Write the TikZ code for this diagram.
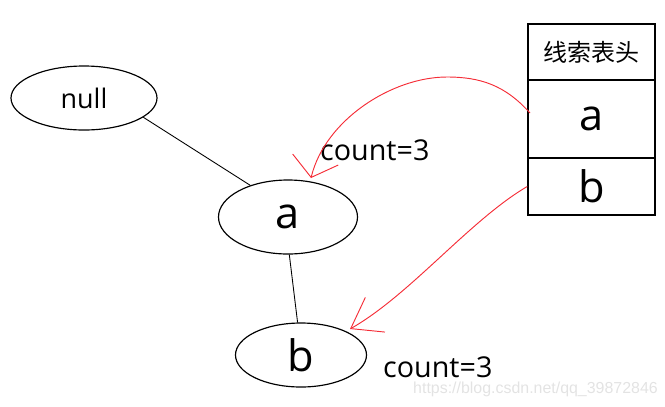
\documentclass[tikz,border=0pt]{standalone}
\usepackage{fontspec}
\setmainfont{Open Sans}
\newfontfamily\cjk{Noto Sans CJK SC}
\newfontfamily\wmfont{Liberation Sans}
\usetikzlibrary{shapes.geometric,arrows.meta}
\definecolor{pen}{RGB}{245,45,55}
\begin{document}
\begin{tikzpicture}[x=0.03cm,y=-0.03cm,
  oval/.style={draw, ellipse, line width=1pt, inner sep=0pt},
  cell/.style={draw, rectangle, line width=1.3pt, minimum width=3.81cm, inner sep=0pt},
  link/.style={line width=0.75pt},
  redline/.style={draw=pen, line width=0.8pt},
  lbl/.style={font=\fontsize{24.5}{28}\selectfont, anchor=base west, inner sep=0pt}]
\useasboundingbox (0,0) rectangle (665,406);
% tree nodes
\node[oval, minimum width=4.38cm, minimum height=1.92cm, font=\fontsize{23}{27}\selectfont] (null) at (84,98) {null};
\node[oval, minimum width=4.17cm, minimum height=2.22cm, font=\fontsize{37}{44}\selectfont] (a) at (288,217) {a};
\node[oval, minimum width=3.93cm, minimum height=1.92cm, font=\fontsize{37}{44}\selectfont] (b) at (301,355) {b};
\draw[link] (null.-18) -- (a.140);
\draw[link] (a.272) -- (b.96);
% table
\node[cell, minimum height=1.68cm, font=\cjk\fontsize{20.5}{24}\selectfont] (th) at (591.5,52) {线索表头};
\node[cell, minimum height=2.34cm, font=\fontsize{37}{44}\selectfont] (ra) at (591.5,119) {a};
\node[cell, minimum height=1.71cm, font=\fontsize{37}{44}\selectfont] (rb) at (591.5,186.5) {b};
% labels
\node[lbl] (c1) at (320,160) {count=3};
\node[lbl] (c2) at (383,377) {count=3};
\node[anchor=base west, inner sep=0pt, text=gray!22, font=\wmfont\fontsize{13.6}{16}\selectfont] (wm) at (413,393) {https://blog.csdn.net/qq\_39872846};
% red arrows
\coordinate (s1) at (530,113);
\coordinate (m1) at (447,77);
\coordinate (e1) at (311,178);
\coordinate (e2) at (350,329);
\draw[redline, -{Straight Barb[length=15.7pt,width=40pt]}] (s1) .. controls (505,85) and (480,77) .. (m1) .. controls (392,77) and (325,120) .. (e1);
\draw[redline, -{Straight Barb[length=24pt,width=34pt]}] (rb.west) .. controls (470,220) and (410,295) .. (e2);
\end{tikzpicture}
\end{document}
